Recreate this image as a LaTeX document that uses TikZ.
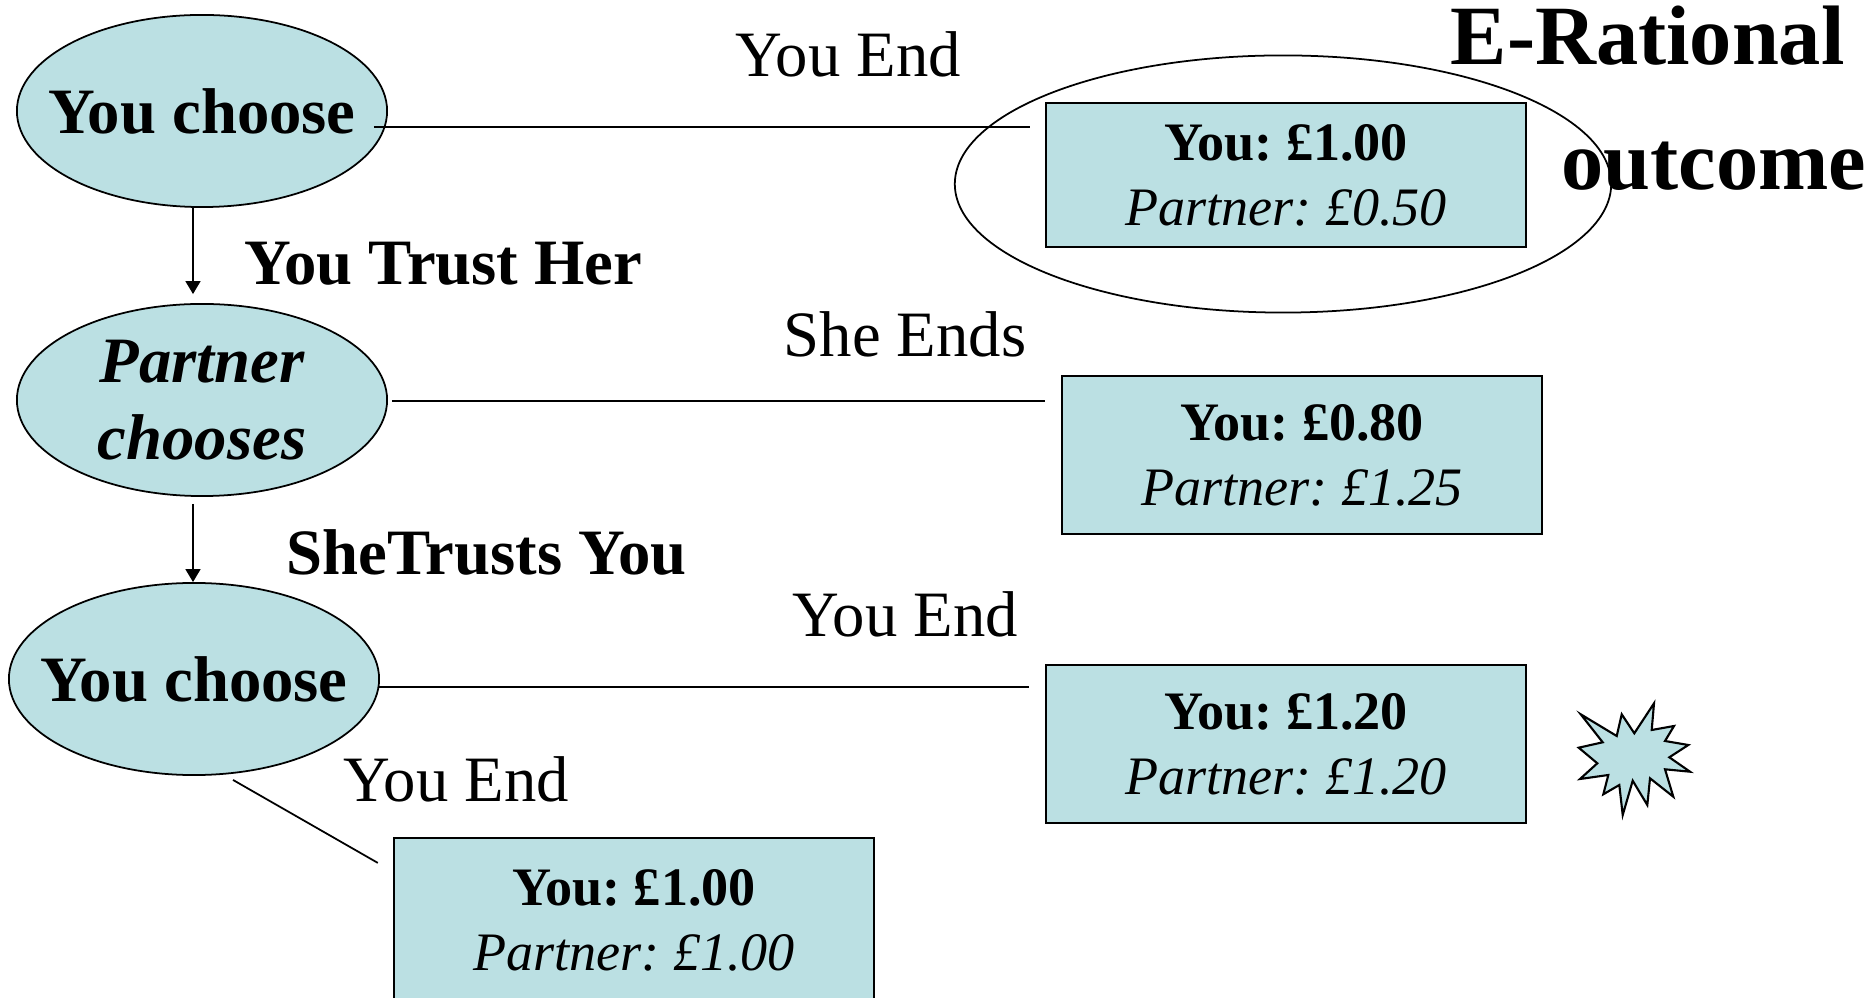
\documentclass[tikz,border=0pt]{standalone}
\usepackage{fontspec}
\setmainfont{Liberation Serif}
\usetikzlibrary{shapes.geometric,arrows.meta}
\definecolor{paleteal}{RGB}{187,224,227}
\newcommand{\bigtxt}{\fontsize{18.4}{21.9}\selectfont}
\newcommand{\boxtxt}{\fontsize{15.4}{18.5}\selectfont}
\newcommand{\titletxt}{\fontsize{24}{28}\selectfont\bfseries}
\frenchspacing
\begin{document}
\begin{tikzpicture}[x=0.01cm, y=-0.01cm,
  choice/.style={ellipse, draw, fill=paleteal, line width=0.5pt, minimum width=3.7cm, minimum height=1.92cm, inner xsep=-1cm, inner ysep=0pt, align=center, font=\bigtxt\bfseries},
  payoff/.style={rectangle, draw, fill=paleteal, line width=0.6pt, minimum width=4.8cm, minimum height=1.58cm, align=center, font=\boxtxt},
  move/.style={font=\bigtxt, inner sep=0pt, anchor=base west},
  link/.style={line width=0.5pt},
  flow/.style={line width=0.5pt, -{Triangle[length=0.13cm,width=0.15cm]}}]
  \useasboundingbox (0,0) rectangle (1864,998);

  % Decision nodes on the left
  \node[choice] (choose1) at (202,111) {You choose};
  \node[choice, font=\bigtxt\bfseries\itshape] (partner) at (202,400) {Partner\\chooses};
  \node[choice] (choose3) at (194,679) {You choose};

  % Ring round the rational outcome
  \node[ellipse, draw, line width=0.5pt, minimum width=6.56cm, minimum height=2.57cm, inner sep=0pt] (ring) at (1283,184) {};

  % Payoff boxes
  \node[payoff, minimum height=1.44cm] (box1) at (1286,175) {{\bfseries You: £1.00}\\{\itshape Partner: £0.50}};
  \node[payoff] (box2) at (1302,455) {{\bfseries You: £0.80}\\{\itshape Partner: £1.25}};
  \node[payoff] (box3) at (1286,744) {{\bfseries You: £1.20}\\{\itshape Partner: £1.20}};
  \node[payoff, minimum height=1.64cm] (box4) at (634,920) {{\bfseries You: £1.00}\\{\itshape Partner: £1.00}};

  % Branches to the payoffs
  \draw[link] ([shift={(-14,16)}]choose1.east) -- ([shift={(-15,-48)}]box1.west);
  \draw[link] ([shift={(4,1)}]partner.east) -- ([shift={(-16,-54)}]box2.west);
  \draw[link] ([shift={(-2,8)}]choose3.east) -- ([shift={(-16,-57)}]box3.west);
  \draw[link] ([shift={(39,4)}]choose3.south) -- ([shift={(-15,26)}]box4.north west);

  % Moves down the tree
  \draw[flow] ([shift={(-9,0)}]choose1.south) -- ([shift={(-9,-9)}]partner.north);
  \draw[flow] ([shift={(-9,7)}]partner.south) -- ([shift={(-1,0)}]choose3.north);

  % Move labels
  \node[move] (youend1) at (735,77) {You End};
  \node[move] (sheends) at (783,357) {She Ends};
  \node[move] (youend2) at (792,637) {You End};
  \node[move] (youend3) at (343,802) {You End};
  \node[move, font=\bigtxt\bfseries] (trust) at (244,285) {You Trust Her};
  \node[move, font=\bigtxt\bfseries] (shetrusts) at (286,575) {SheTrusts You};

  % Title on the right
  \node[move, font=\titletxt] (erat) at (1450,65) {E-Rational};
  \node[move, font=\titletxt] (outc) at (1561,190) {outcome};

  % Burst beside the best payoff
  \draw[line width=0.6pt, fill=paleteal] (1580.7,714.3) -- (1616.7,736) -- (1621.7,714.3) -- (1634.3,733.3)
    -- (1654,703.3) -- (1651.7,730) -- (1674,726) -- (1665,741) -- (1688.3,745) -- (1669.3,757.3)
    -- (1690,771.7) -- (1665,769.3) -- (1673.3,796.7) -- (1650,778.3) -- (1647.3,805) -- (1632.7,780.7)
    -- (1622.7,815) -- (1619.3,785) -- (1603.3,794.3) -- (1608.3,775) -- (1580,779) -- (1597.3,763.3)
    -- (1578.7,747.7) -- (1602.7,742.3) -- cycle;
\end{tikzpicture}
\end{document}
